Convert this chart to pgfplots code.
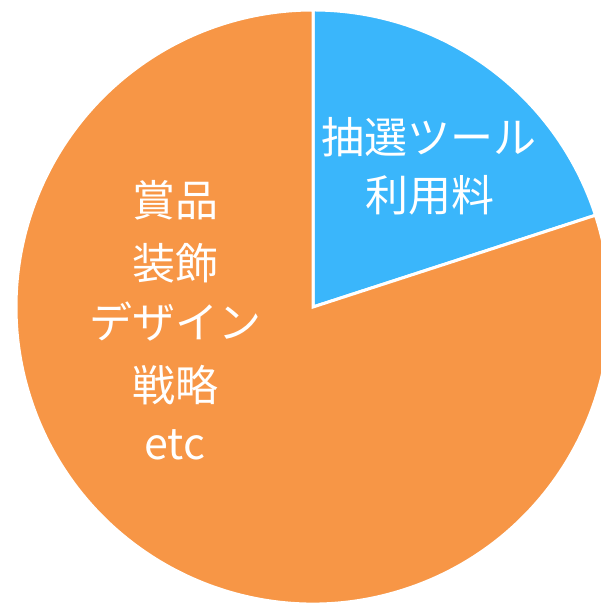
\documentclass[border=0pt]{standalone}
\usepackage{pgfplots}
\usepackage{pgfplotstable}
\pgfplotsset{compat=1.18}
\usepackage{fontspec}
\setmainfont{Noto Sans CJK JP}
\definecolor{pieblue}{HTML}{3AB6FB}
\definecolor{pieorange}{HTML}{F79646}
\pgfplotstableread{
share
20
80
}\piedata
\begin{document}
\begin{tikzpicture}
\pgfplotstablegetelem{0}{share}\of\piedata \let\va\pgfplotsretval
\pgfplotstablegetelem{1}{share}\of\piedata \let\vb\pgfplotsretval
\pgfmathsetmacro{\aend}{90-\va*3.6}
\pgfmathsetmacro{\bend}{\aend-\vb*3.6}
\begin{axis}[
  x=1bp, y=1bp,
  xmin=0, xmax=601, ymin=0, ymax=604,
  axis line style={draw=none}, ticks=none,
  clip=true,
]
\path (axis cs:0,0) rectangle (axis cs:601,604);
\filldraw[fill=pieblue, draw=white, line width=3bp]
  (axis cs:313,297) -- ++(90:297bp) arc[start angle=90, end angle=\aend, radius=297bp] -- cycle;
\filldraw[fill=pieorange, draw=white, line width=3bp]
  (axis cs:313,297) -- ++(\aend:297bp) arc[start angle=\aend, end angle=\bend, radius=297bp] -- cycle;
\begin{scope}[every node/.style={text=white, font=\fontsize{43bp}{50bp}\selectfont, inner sep=0pt, anchor=center}]
\node at (axis cs:429,467) {抽選ツール};
\node at (axis cs:430,409) {利用料};
\node at (axis cs:175,404) {賞品};
\node at (axis cs:175,341) {装飾};
\node at (axis cs:175,282) {デザイン};
\node at (axis cs:175,219) {戦略};
\node[anchor=base] at (axis cs:175,144) {etc};
\end{scope}
\end{axis}
\end{tikzpicture}
\end{document}
